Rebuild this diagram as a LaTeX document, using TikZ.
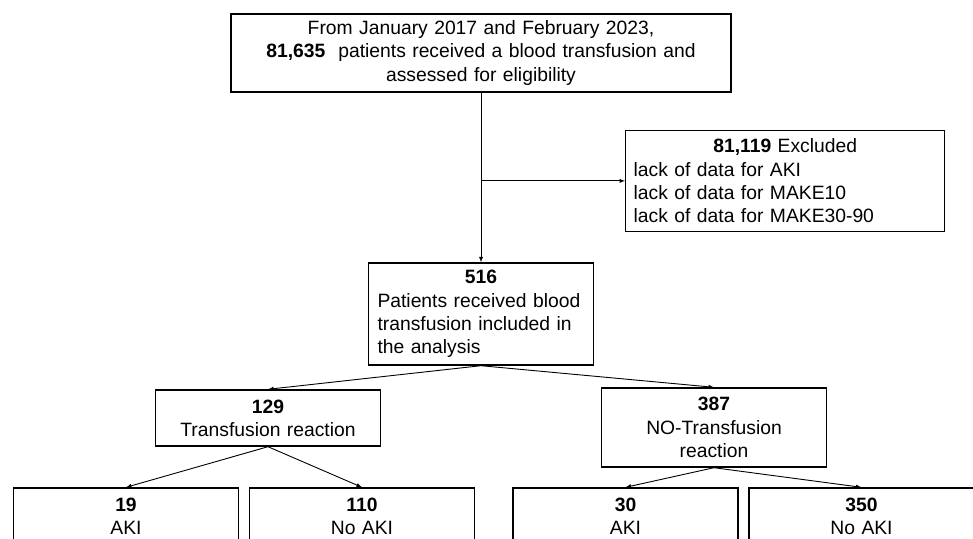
\documentclass[tikz,border=0pt]{standalone}
\usepackage{fontspec}
\setmainfont{Liberation Sans}
\usetikzlibrary{positioning}
\newcommand{\num}[1]{\textbf{#1}} % Patient count.
\newcommand{\headline}[1]{\makebox[\linewidth]{#1}}

\begin{document}
\begin{tikzpicture}[x=1pt, y=1pt,
  font=\fontsize{19.3}{23.2}\selectfont,
  box/.style={draw, line width=1.4pt, inner xsep=9pt, inner ysep=2pt,
    text width=207pt, align=center},
  link/.style={draw, line width=0.9pt, -latex},
  edge from parent/.style={link},
  edge from parent path={(\tikzparentnode.south) -- (\tikzchildnode.north)},
  level 1/.style={level distance=261pt},
  level 2/.style={level distance=104pt, sibling distance=446pt},
  level 3/.style={level distance=98.5pt, sibling distance=236pt}]
\clip (0,0) rectangle (973,-538);
\node[box, text width=482pt, minimum height=78pt] (assessed) at (481,-53)
  {From January 2017 and February 2023,\\
   \num{81,635}\ \ patients received a blood transfusion and\\
   assessed for eligibility}
  child { node[box, align=left, minimum height=102pt] (included)
    {\headline{\num{516}}\\ Patients received blood\\ transfusion included in\\ the analysis}
    child { node[box, minimum height=56pt, xshift=10pt] (reaction)
      {\num{129}\\ Transfusion reaction}
      child { node[box, minimum height=57pt, xshift=-24pt] (akiA) {\num{19}\\ AKI} }
      child { node[box, minimum height=57pt, xshift=-24pt] (noakiA) {\num{110}\\ No AKI} }
    }
    child { node[box, minimum height=79pt, xshift=10pt, yshift=-9.5pt] (noreaction)
      {\num{387}\\ NO-Transfusion\\ reaction}
      child { node[box, minimum height=57pt, xshift=29.5pt, yshift=9.5pt] (akiB) {\num{30}\\ AKI} }
      child { node[box, minimum height=57pt, xshift=29.5pt, yshift=9.5pt] (noakiB) {\num{350}\\ No AKI} }
    }
  };
\path (assessed.south) -- (included.north) coordinate[pos=0.52] (split);
\node[box, align=left, text width=303pt, inner xsep=8pt, minimum height=101pt,
  right=144pt of split] (excluded)
  {\headline{\num{81,119} Excluded}\\ lack of data for AKI\\ lack of data for MAKE10\\
   lack of data for MAKE30-90};
\draw[link] (split) -- (excluded);
\end{tikzpicture}
\end{document}
